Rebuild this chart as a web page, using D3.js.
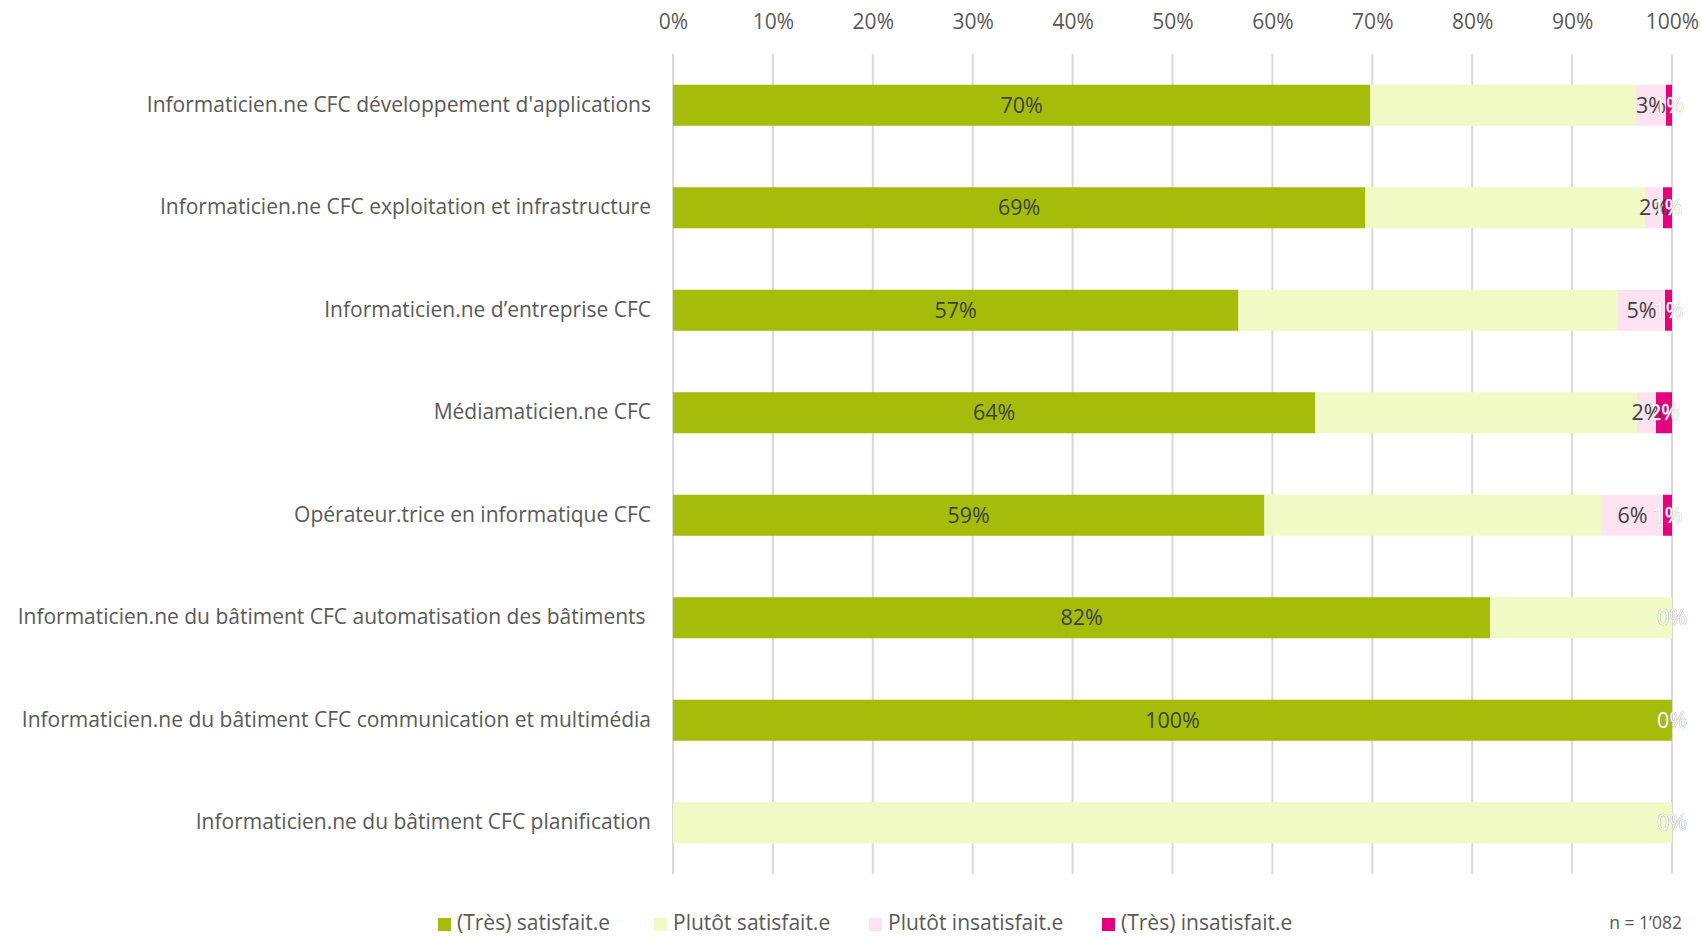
<!DOCTYPE html>
<meta charset="utf-8">
<script src="https://cdn.jsdelivr.net/npm/d3@7"></script>
<style>
    body { margin: 0; background-color: white; }
    svg { display: block; font-family: "Open Sans", Lato, sans-serif; }
</style>
<body>
<div id="chart"></div>
<script>
    // categories, top to bottom
    var categories = [
        "Informaticien.ne CFC développement d'applications",
        "Informaticien.ne CFC exploitation et infrastructure",
        "Informaticien.ne d’entreprise CFC",
        "Médiamaticien.ne CFC",
        "Opérateur.trice en informatique CFC",
        "Informaticien.ne du bâtiment CFC automatisation des bâtiments ",
        "Informaticien.ne du bâtiment CFC communication et multimédia",
        "Informaticien.ne du bâtiment CFC planification"
    ];

    // shares in %
    var tresSatisfait     = [69.8, 69.3, 56.6, 64.3, 59.2, 81.8, 100, 0];
    var plutotSatisfait   = [26.6, 28.0, 38.0, 32.2, 33.8, 18.2, 0, 100];
    var plutotInsatisfait = [3.0, 1.8, 4.7, 1.9, 6.1, 0, 0, 0];
    var tresInsatisfait   = [0.6, 0.9, 0.7, 1.6, 0.9, 0, 0, 0];

    var seriesNames = ["(Très) satisfait.e", "Plutôt satisfait.e", "Plutôt insatisfait.e", "(Très) insatisfait.e"];
    var xTicks = [0, 10, 20, 30, 40, 50, 60, 70, 80, 90, 100];
    var sampleNote = "n = 1’082";

    var colors = ["#a5bd0a", "#f1f9c4", "#fde2f1", "#e5007d"];
    var labelColors = ["#404040", null, "#404040", "#ffffff"];

    var width = 1702, height = 937;
    var plotLeft = 673, plotRight = 1672, plotTop = 54, plotBottom = 874;

    var svg = d3.select("#chart").append("svg")
        .attr("width", width)
        .attr("height", height);

    var x = d3.scaleLinear().domain([0, 100]).range([plotLeft, plotRight]);
    var y = d3.scaleBand().domain(categories).range([plotTop, plotBottom]).paddingInner(0.6).paddingOuter(0.3);

    // gridlines
    svg.append("g").selectAll("line")
        .data(xTicks)
        .enter().append("line")
        .attr("x1", function (d) { return x(d); })
        .attr("x2", function (d) { return x(d); })
        .attr("y1", plotTop)
        .attr("y2", plotBottom)
        .attr("stroke", "#d9d9d9")
        .attr("stroke-width", 2);

    // top axis labels
    var xAxis = svg.append("g")
        .attr("transform", "translate(0," + 32 + ")")
        .call(d3.axisTop(x).tickValues(xTicks).tickSize(0).tickFormat(function (d) { return d + "%"; }));
    xAxis.select(".domain").remove();
    xAxis.selectAll("text")
        .attr("font-size", 21)
        .attr("font-family", "'Open Sans', Lato, sans-serif")
        .attr("fill", "#595959");

    // category labels
    var yAxis = svg.append("g")
        .attr("transform", "translate(" + (plotLeft - 22) + ",0)")
        .call(d3.axisLeft(y).tickSize(0));
    yAxis.select(".domain").remove();
    yAxis.selectAll("text")
        .attr("x", 0)
        .attr("font-size", 21)
        .attr("font-family", "'Open Sans', Lato, sans-serif")
        .attr("fill", "#595959")
        .style("white-space", "pre");

    // stacked data
    var rows = categories.map(function (c, i) {
        return { cat: c, s0: tresSatisfait[i], s1: plutotSatisfait[i], s2: plutotInsatisfait[i], s3: tresInsatisfait[i] };
    });
    var stacked = d3.stack().keys(["s0", "s1", "s2", "s3"])(rows);

    var series = svg.selectAll("g.series")
        .data(stacked)
        .enter().append("g")
        .attr("class", "series")
        .attr("fill", function (d, i) { return colors[i]; });

    series.selectAll("rect")
        .data(function (d) { return d; })
        .enter().append("rect")
        .attr("x", function (d) { return x(d[0]); })
        .attr("width", function (d) { return x(d[1]) - x(d[0]); })
        .attr("y", function (d) { return y(d.data.cat); })
        .attr("height", y.bandwidth());

    // data labels (none for "Plutôt satisfait")
    stacked.forEach(function (s, i) {
        if (!labelColors[i]) return;
        var t = svg.append("g").selectAll("text")
            .data(s.filter(function (d) { return i > 0 || d[1] - d[0] > 0; }))
            .enter().append("text")
            .attr("x", function (d) { return x((d[0] + d[1]) / 2); })
            .attr("y", function (d) { return y(d.data.cat) + y.bandwidth() / 2; })
            .attr("dy", "0.35em")
            .attr("text-anchor", "middle")
            .attr("font-size", 21.5)
            .attr("fill", labelColors[i])
            .text(function (d) { return Math.round(d[1] - d[0]) + "%"; });
        if (i === 3) {
            // white labels get a faint outline, as in the original
            t.attr("stroke", "#b8b8b8").attr("stroke-width", 0.7).attr("paint-order", "stroke");
        }
    });

    // legend
    var legendX = [438, 654, 869, 1102];
    var legend = svg.append("g").selectAll("g")
        .data(seriesNames)
        .enter().append("g")
        .attr("transform", function (d, i) { return "translate(" + legendX[i] + "," + 923 + ")"; });
    legend.append("rect")
        .attr("x", 0).attr("y", -5)
        .attr("width", 13).attr("height", 13)
        .attr("fill", function (d, i) { return colors[i]; });
    legend.append("text")
        .attr("x", 19)
        .attr("dy", "0.35em")
        .attr("font-size", 21)
        .attr("fill", "#595959")
        .text(function (d) { return d; });

    svg.append("text")
        .attr("x", 1682)
        .attr("y", 923)
        .attr("dy", "0.35em")
        .attr("text-anchor", "end")
        .attr("font-size", 17.5)
        .attr("fill", "#595959")
        .text(sampleNote);
</script>
</body>
